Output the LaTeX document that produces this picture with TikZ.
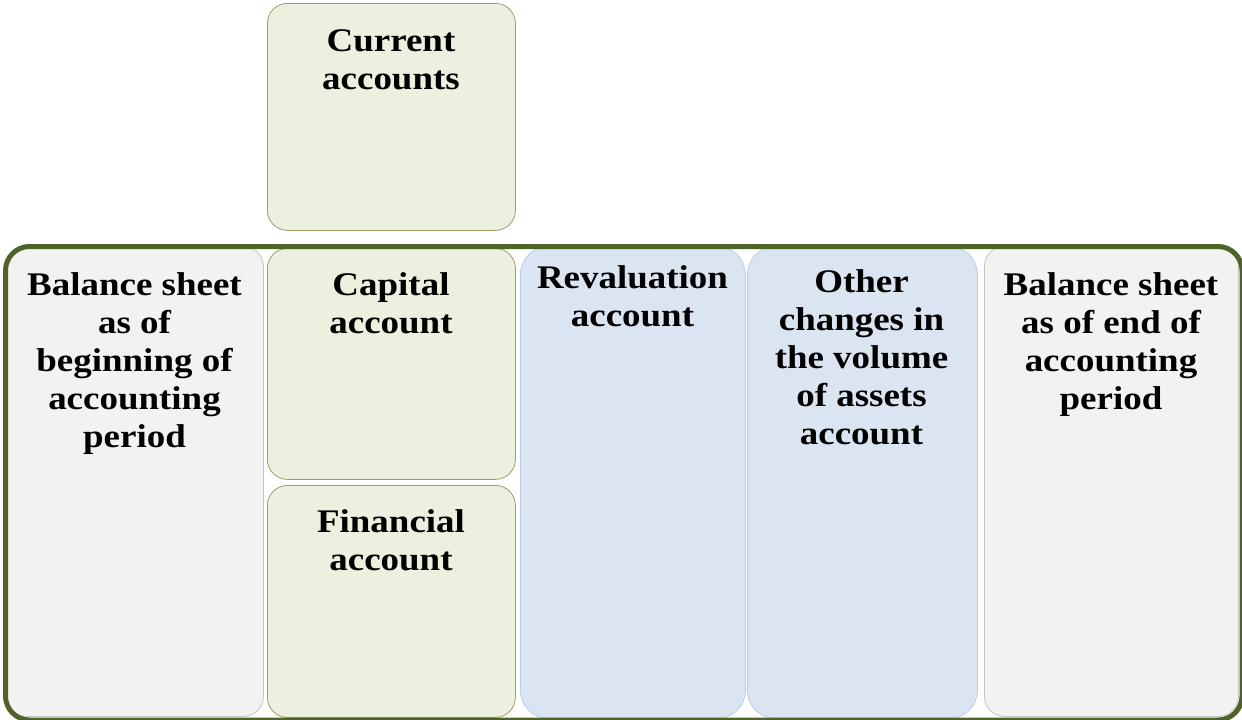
\documentclass[tikz,border=0pt]{standalone}
\usepackage{fontspec}
\setmainfont{Liberation Serif}[FakeStretch=1.12]
\definecolor{grayF}{HTML}{F2F2F2}
\definecolor{grayD}{HTML}{C4C4C4}
\definecolor{greenF}{HTML}{EBF1DE}
\definecolor{greenD}{HTML}{A09A6C}
\definecolor{blueF}{HTML}{DBE5F1}
\definecolor{blueD}{HTML}{B9CDE5}
\definecolor{frameC}{HTML}{4F6228}
\begin{document}
\begin{tikzpicture}[x=1pt,y=-1pt,
  box/.style={draw, line width=0.8pt, rounded corners=20pt, anchor=north west, inner sep=0pt},
  graybox/.style={box, fill=grayF, draw=grayD},
  greenbox/.style={box, fill=greenF, draw=greenD},
  bluebox/.style={box, fill=blueF, draw=blueD, rounded corners=28pt},
  frame/.style={draw=frameC, line width=5pt, rounded corners=24pt, anchor=north west, inner sep=0pt},
  txt/.style={font=\fontsize{33}{38}\selectfont\bfseries, align=center, inner sep=0pt, anchor=north}]
\useasboundingbox (0,0) rectangle (1242,720);
% boxes
\node[graybox, minimum width=257pt, minimum height=470pt] (lb) at (6,246) {};
\node[greenbox, minimum width=248pt, minimum height=227pt] (cur) at (267,3) {};
\node[greenbox, minimum width=248pt, minimum height=231pt] (cap) at (267,248) {};
\node[greenbox, minimum width=248pt, minimum height=232pt] (fin) at (267,485) {};
\node[bluebox, minimum width=225pt, minimum height=472pt] (rev) at (520,246) {};
\node[bluebox, minimum width=230pt, minimum height=472pt] (oth) at (747,246) {};
\node[graybox, minimum width=254pt, minimum height=470pt] (rb) at (984,246) {};
% frame
\node[frame, minimum width=1236.5pt, minimum height=473.5pt] (fr) at (3,244) {};
% texts
\node[txt] (lb-t) at (134.5,272) {Balance sheet\\as of\\beginning of\\accounting\\period};
\node[txt] (cur-t) at (391,29) {Current\\accounts};
\node[txt] (cap-t) at (391,272) {Capital\\account};
\node[txt] (fin-t) at (391,509) {Financial\\account};
\node[txt] (rev-t) at (632.5,265) {Revaluation\\account};
\node[txt] (oth-t) at (861.5,269) {Other\\changes in\\the volume\\of assets\\account};
\node[txt] (rb-t) at (1111,272) {Balance sheet\\as of end of\\accounting\\period};
\end{tikzpicture}
\end{document}
